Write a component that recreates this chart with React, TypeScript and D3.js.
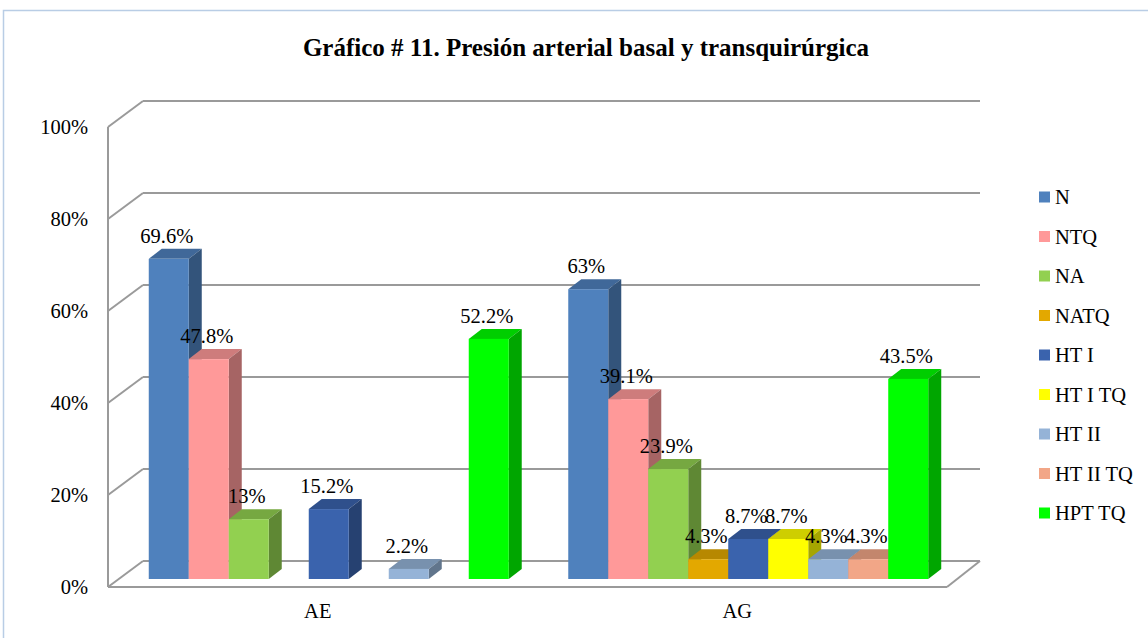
import React from "react";
import * as d3 from "d3";

const categories = ["AE", "AG"];
const seriesNames = ["N", "NTQ", "NA", "NATQ", "HT I", "HT I TQ", "HT II", "HT II TQ", "HPT TQ"];
const seriesColors = ["#4F81BD", "#FF9999", "#92D050", "#E3A800", "#3A63AD", "#FFFF00", "#95B3D7", "#F2A687", "#00FF00"];
const valuesAE = [69.6, 47.8, 13, 0, 15.2, 0, 2.2, 0, 52.2];
const valuesAG = [63, 39.1, 23.9, 4.3, 8.7, 8.7, 4.3, 4.3, 43.5];
const labelsAE = ["69.6%", "47.8%", "13%", "", "15.2%", "", "2.2%", "", "52.2%"];
const labelsAG = ["63%", "39.1%", "23.9%", "4.3%", "8.7%", "8.7%", "4.3%", "4.3%", "43.5%"];
const yTicks = [0, 20, 40, 60, 80, 100];
const title = "Gráfico # 11. Presión arterial basal y transquirúrgica";

const W = 1148, H = 638;
const FONT = "Liberation Serif, serif";
const FS = 20.5;

// 3D geometry
const DX = 35, DY = -26; // wall depth
const BDX = 13, BDY = -10; // bar depth
const BOFFX = 11, BOFFY = -8; // bar plane offset from front

export default function App() {
  const values = [valuesAE, valuesAG];
  const labels = [labelsAE, labelsAG];
  const yFront = d3.scaleLinear().domain([0, 100]).range([587, 127]);
  const xBand = d3.scaleBand().domain(categories).range([108, 947]).padding(0);
  const inner = d3.scaleBand().domain(seriesNames).range([0, xBand.bandwidth()]).paddingOuter(0.744).paddingInner(0);

  const x0 = 108, x1 = 947;
  const grid = "#9A9A9A";

  const bars: any[] = [];
  categories.forEach((c, ci) => {
    seriesNames.forEach((s, si) => {
      const v = values[ci][si];
      if (!v) return;
      const bx = (xBand(c) as number) + BOFFX + (inner(s) as number);
      const bw = inner.bandwidth();
      const by0 = yFront(0) + BOFFY;
      const by = yFront(v) + BOFFY;
      const col = d3.color(seriesColors[si])!;
      const top = col.darker(0.6).formatHex();
      const side = col.darker(1.2).formatHex();
      bars.push(
        <g key={c + s}>
          <polygon points={`${bx},${by} ${bx + bw},${by} ${bx + bw + BDX},${by + BDY} ${bx + BDX},${by + BDY}`} fill={top} />
          <polygon points={`${bx + bw},${by} ${bx + bw + BDX},${by + BDY} ${bx + bw + BDX},${by0 + BDY} ${bx + bw},${by0}`} fill={side} />
          <rect x={bx} y={by} width={bw} height={by0 - by} fill={seriesColors[si]} />
        </g>
      );
    });
  });

  const valueLabels: any[] = [];
  categories.forEach((c, ci) => {
    seriesNames.forEach((s, si) => {
      const v = values[ci][si];
      if (!v) return;
      const bx = (xBand(c) as number) + BOFFX + (inner(s) as number);
      const by = yFront(v) + BOFFY;
      valueLabels.push(
        <text key={"l" + c + s} x={bx + inner.bandwidth() / 2 - 2} y={by - 16} textAnchor="middle" fontSize={FS} fontFamily={FONT} fill="#000">
          {labels[ci][si]}
        </text>
      );
    });
  });

  return (
    <svg width={W} height={H} style={{ position: "absolute", left: 0, top: 0, background: "#fff" }}>
      <rect x={3.5} y={10.5} width={1160} height={660} fill="#fff" stroke="#B9CDE5" strokeWidth={1.5} />
      <text x={586} y={56} textAnchor="middle" fontSize={25} fontWeight="bold" fontFamily={FONT}>{title}</text>

      {/* walls */}
      {yTicks.map((t) => (
        <g key={"g" + t}>
          <line x1={x0 + DX} x2={980} y1={yFront(t) + DY} y2={yFront(t) + DY} stroke={grid} strokeWidth={2} />
          <line x1={x0} x2={x0 + DX} y1={yFront(t)} y2={yFront(t) + DY} stroke={grid} strokeWidth={2} />
          <text x={88} y={yFront(t) + 7} textAnchor="end" fontSize={FS} fontFamily={FONT}>{t}%</text>
        </g>
      ))}
      <line x1={x0} x2={x0} y1={yFront(100)} y2={yFront(0)} stroke={grid} strokeWidth={2} />
      <line x1={x0} x2={x1} y1={yFront(0)} y2={yFront(0)} stroke={grid} strokeWidth={2} />
      <line x1={x1} x2={x1 + DX - 2} y1={yFront(0)} y2={yFront(0) + DY} stroke={grid} strokeWidth={2} />

      {bars}
      {valueLabels}

      {categories.map((c) => (
        <text key={c} x={(xBand(c) as number) + xBand.bandwidth() / 2} y={618} textAnchor="middle" fontSize={FS} fontFamily={FONT}>{c}</text>
      ))}

      {seriesNames.map((s, i) => (
        <g key={"lg" + s} transform={`translate(1039, ${197 + i * 39.5})`}>
          <rect x={0} y={-5.5} width={11} height={11} fill={seriesColors[i]} />
          <text x={16} y={7} fontSize={FS} fontFamily={FONT}>{s}</text>
        </g>
      ))}
    </svg>
  );
}
